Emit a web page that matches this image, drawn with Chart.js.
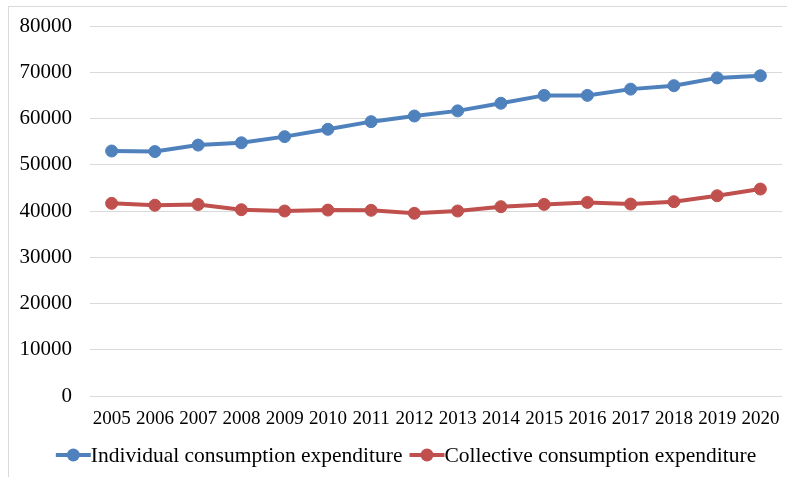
<!DOCTYPE html>
<html>
<head>
<meta charset="utf-8">
<script src="https://cdn.jsdelivr.net/npm/chart.js@4.4.1/dist/chart.umd.min.js"></script>
<style>
  html, body { margin: 0; padding: 0; background: #fff; overflow: hidden; }
  #frame {
    position: absolute; left: 8px; top: 6px; width: 800px; height: 500px;
    border: 1px solid #d9d9d9; box-sizing: border-box;
  }
  #wrap { position: absolute; left: 0; top: 0; width: 787px; height: 477px; }
</style>
</head>
<body>
<div id="frame"></div>
<div id="wrap"><canvas id="chart"></canvas></div>
<script>
const years = ["2005", "2006", "2007", "2008", "2009", "2010", "2011", "2012",
  "2013", "2014", "2015", "2016", "2017", "2018", "2019", "2020"];
const individualSpend = [52970, 52850, 54250, 54750, 56080, 57670, 59320, 60540,
  61650, 63300, 65000, 65000, 66350, 67100, 68780, 69250];
const collectiveSpend = [41650, 41250, 41400, 40280, 40000, 40200, 40150, 39500,
  40000, 40930, 41430, 41860, 41500, 42020, 43300, 44750];
const yTicks = [0, 10000, 20000, 30000, 40000, 50000, 60000, 70000, 80000];

const serif = "'Liberation Serif', 'Times New Roman', serif";

// legend drawn like excel: short line with a dot, then label
const excelLegend = {
  id: "excelLegend",
  afterDraw(chart) {
    const ctx = chart.ctx;
    const sets = chart.data.datasets;
    ctx.save();
    ctx.font = "21.5px " + serif;
    ctx.textBaseline = "middle";
    const lineW = 35, gap = 7;
    const widths = sets.map((d) => lineW + ctx.measureText(d.label).width);
    const total = widths.reduce((a, b) => a + b, 0) + gap * (sets.length - 1);
    let x = 406 - total / 2;
    const y = 455;
    sets.forEach((d, i) => {
      ctx.strokeStyle = d.borderColor;
      ctx.lineWidth = 4;
      ctx.beginPath();
      ctx.moveTo(x, y);
      ctx.lineTo(x + lineW, y);
      ctx.stroke();
      ctx.fillStyle = d.backgroundColor;
      ctx.beginPath();
      ctx.arc(x + lineW / 2, y, 6.5, 0, Math.PI * 2);
      ctx.fill();
      ctx.fillStyle = "#000";
      ctx.fillText(d.label, x + lineW, y + 1);
      x += widths[i] + gap;
    });
    ctx.restore();
  },
};

new Chart(document.getElementById("chart"), {
  type: "line",
  data: {
    labels: years,
    datasets: [
      {
        label: "Individual consumption expenditure",
        data: individualSpend,
        borderColor: "#4F81BD",
        backgroundColor: "#4F81BD",
        borderWidth: 4,
        pointRadius: 6,
        pointBorderWidth: 1,
        pointHoverRadius: 6,
      },
      {
        label: "Collective consumption expenditure",
        data: collectiveSpend,
        borderColor: "#C0504D",
        backgroundColor: "#C0504D",
        borderWidth: 4,
        pointRadius: 6,
        pointBorderWidth: 1,
        pointHoverRadius: 6,
      },
    ],
  },
  options: {
    responsive: true,
    maintainAspectRatio: false,
    animation: false,
    layout: { autoPadding: false, padding: { left: 0, right: 5, top: 26, bottom: 0 } },
    plugins: {
      legend: { display: false },
      tooltip: { enabled: false },
    },
    scales: {
      x: {
        offset: true,
        grid: { display: false },
        border: { display: false },
        ticks: {
          color: "#000",
          font: { family: serif, size: 19 },
          padding: 4,
          maxRotation: 0,
          autoSkip: false,
        },
        afterFit: (scale) => {
          scale.height = 81;
          scale.paddingLeft = 0;
          scale.paddingRight = 0;
        },
      },
      y: {
        min: 0,
        max: 80000,
        afterBuildTicks: (scale) => {
          scale.ticks = yTicks.map((v) => ({ value: v }));
        },
        grid: { color: "#d9d9d9", lineWidth: 1, drawTicks: false },
        border: { display: false },
        ticks: {
          color: "#000",
          font: { family: serif, size: 21 },
          padding: 18,
          callback: (v) => String(v),
        },
        afterFit: (scale) => {
          scale.width = 90;
          scale.paddingTop = 0;
          scale.paddingBottom = 0;
        },
      },
    },
  },
  plugins: [excelLegend],
});
</script>
</body>
</html>
